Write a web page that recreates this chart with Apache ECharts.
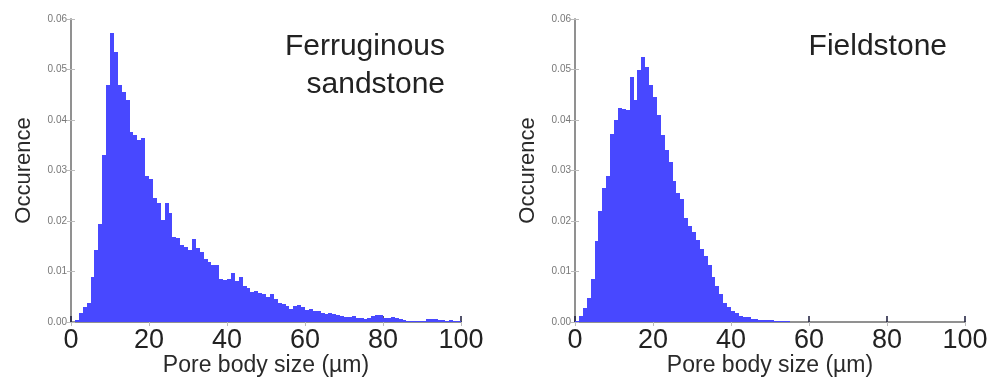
<!DOCTYPE html>
<html>
<head>
<meta charset="utf-8">
<script src="https://cdn.jsdelivr.net/npm/echarts@6/dist/echarts.min.js"></script>
<style>
html,body{margin:0;padding:0;background:#fff;}
#chart{width:992px;height:377px;}
</style>
</head>
<body>
<div id="chart"></div>
<script>
// Histogram values: occurrence per 1 µm bin (bins 0-1, 1-2, ..., 99-100)
const binWidth = 1;
const ferruginous = [
  0, 0.0004, 0.0018, 0.003, 0.0038, 0.009, 0.0143, 0.0195, 0.033, 0.047,
  0.0572, 0.0535, 0.047, 0.0455, 0.044, 0.0376, 0.037, 0.036, 0.0365, 0.029,
  0.0283, 0.0245, 0.0235, 0.0202, 0.0235, 0.0215, 0.0168, 0.0166, 0.0152, 0.0148,
  0.0143, 0.0165, 0.0146, 0.0138, 0.0125, 0.0118, 0.0112, 0.0113, 0.0085, 0.0083,
  0.0086, 0.0097, 0.0082, 0.009, 0.0072, 0.0068, 0.006, 0.0062, 0.0058, 0.0055,
  0.005, 0.0055, 0.0046, 0.0038, 0.0036, 0.0032, 0.0025, 0.0032, 0.0033, 0.003,
  0.0024, 0.0025, 0.0022, 0.0021, 0.0018, 0.0016, 0.0017, 0.0015, 0.0013, 0.0011,
  0.001, 0.0009, 0.0011, 0.0008, 0.0007, 0.0006, 0.0007, 0.0012, 0.0014, 0.0013,
  0.0008, 0.0007, 0.0009, 0.0008, 0.0006, 0.0003, 0.0002, 0.0002, 0.0001, 0.0002,
  0.0002, 0.0005, 0.0006, 0.0005, 0.0004, 0.0003, 0.0002, 0.0003, 0.0002, 0.0002
];
const fieldstone = [
  0.0002, 0.0012, 0.0027, 0.0047, 0.0086, 0.016, 0.022, 0.0265, 0.029, 0.0372,
  0.040, 0.0423, 0.0421, 0.042, 0.0486, 0.044, 0.050, 0.0525, 0.0505, 0.047,
  0.0445, 0.041, 0.037, 0.034, 0.0317, 0.028, 0.0255, 0.0243, 0.0205, 0.019,
  0.0178, 0.0162, 0.0145, 0.013, 0.0112, 0.009, 0.0072, 0.0055, 0.0038, 0.003,
  0.0022, 0.0017, 0.0012, 0.001, 0.0009, 0.0006, 0.0005, 0.0004, 0.0004, 0.0003,
  0.0003, 0.0002, 0.0002, 0.0001, 0.0001, 0, 0, 0, 0, 0,
  0, 0, 0, 0, 0, 0, 0, 0, 0, 0,
  0, 0, 0, 0, 0, 0, 0, 0, 0, 0,
  0, 0, 0, 0, 0, 0, 0, 0, 0, 0,
  0, 0, 0, 0, 0, 0, 0, 0, 0, 0
];
const panelTitles = ['Ferruginous\nsandstone', 'Fieldstone'];
const xTicks = [0, 20, 40, 60, 80, 100];
const yTicks = [0, 0.01, 0.02, 0.03, 0.04, 0.05, 0.06];
const xName = 'Pore body size (µm)';
const yName = 'Occurence';

const FONT = '"Liberation Sans", Arial, Helvetica, sans-serif';
const chart = echarts.init(document.getElementById('chart'), null, {renderer: 'canvas'});

function toData(arr) {
  return arr.map((v, i) => [i * binWidth, (i + 1) * binWidth, v]);
}

function renderHist(params, api) {
  const start = api.value(0), end = api.value(1), v = api.value(2);
  if (!v) return null;
  const p0 = api.coord([start, v]);
  const p1 = api.coord([end, 0]);
  const x0 = Math.round(p0[0]), x1 = Math.round(p1[0]);
  const y0 = Math.round(p0[1]), y1 = p1[1];
  return {
    type: 'rect',
    shape: {x: x0, y: y0, width: x1 - x0, height: y1 - y0},
    style: {fill: '#4848ff'}
  };
}

const grids = [
  {left: 71, top: 19, width: 390, height: 303, outerBoundsMode: 'none', containLabel: false},
  {left: 575, top: 19, width: 390, height: 303, outerBoundsMode: 'none', containLabel: false}
];

const xAxes = [], yAxes = [], series = [];
grids.forEach((g, gi) => {
  xAxes.push({
    type: 'value', gridIndex: gi, min: xTicks[0], max: xTicks[xTicks.length - 1],
    interval: xTicks[1] - xTicks[0], position: 'bottom',
    name: xName, nameLocation: 'middle', nameGap: 32, nameMoveOverlap: false,
    nameTextStyle: {fontFamily: FONT, fontSize: 23, color: '#2a2a2a'},
    axisLine: {show: true, lineStyle: {color: '#8a8a8a', width: 1.5}},
    axisTick: {show: true, inside: true, length: 6, lineStyle: {color: '#1a1a3a', width: 1.5}},
    axisLabel: {fontFamily: FONT, fontSize: 27, color: '#222', margin: 5},
    splitLine: {show: false}
  });
  xAxes.push({
    type: 'value', gridIndex: gi, min: xTicks[0], max: xTicks[xTicks.length - 1],
    interval: xTicks[1] - xTicks[0], position: 'top',
    axisLine: {show: true, lineStyle: {color: '#8a8a8a', width: 1.5}},
    axisTick: {show: true, inside: true, length: 4, lineStyle: {color: '#bbb', width: 1}},
    axisLabel: {show: false}, splitLine: {show: false}
  });
  yAxes.push({
    type: 'value', gridIndex: gi, min: yTicks[0], max: yTicks[yTicks.length - 1],
    interval: 0.01, position: 'left',
    name: yName, nameLocation: 'middle', nameGap: 36, nameRotate: 90, nameMoveOverlap: false,
    nameTextStyle: {fontFamily: FONT, fontSize: 22, color: '#2a2a2a'},
    axisLine: {show: true, lineStyle: {color: '#8a8a8a', width: 1.5}},
    axisTick: {show: true, inside: true, length: 4, lineStyle: {color: '#bbb', width: 1}},
    axisLabel: {fontFamily: FONT, fontSize: 10, color: '#777', margin: 4,
      formatter: v => v.toFixed(2)},
    splitLine: {show: false}
  });
  yAxes.push({
    type: 'value', gridIndex: gi, min: yTicks[0], max: yTicks[yTicks.length - 1],
    interval: 0.01, position: 'right',
    axisLine: {show: true, lineStyle: {color: '#8a8a8a', width: 1.5}},
    axisTick: {show: true, inside: true, length: 4, lineStyle: {color: '#bbb', width: 1}},
    axisLabel: {show: false}, splitLine: {show: false}
  });
  series.push({
    type: 'custom', xAxisIndex: gi * 2, yAxisIndex: gi * 2,
    renderItem: renderHist, encode: {x: [0, 1], y: 2},
    data: toData(gi === 0 ? ferruginous : fieldstone), silent: true, z: 1
  });
});

chart.setOption({
  animation: false,
  backgroundColor: '#fff',
  grid: grids,
  xAxis: xAxes,
  yAxis: yAxes,
  series: series,
  graphic: [
    {type: 'text', x: 445, y: 28, z: 10, style: {text: panelTitles[0], textAlign: 'right',
      textVerticalAlign: 'top', font: '30px ' + FONT, lineHeight: 38, fill: '#222'}},
    {type: 'text', x: 947, y: 28, z: 10, style: {text: panelTitles[1], textAlign: 'right',
      textVerticalAlign: 'top', font: '30px ' + FONT, lineHeight: 38, fill: '#222'}}
  ]
});
</script>
</body>
</html>
